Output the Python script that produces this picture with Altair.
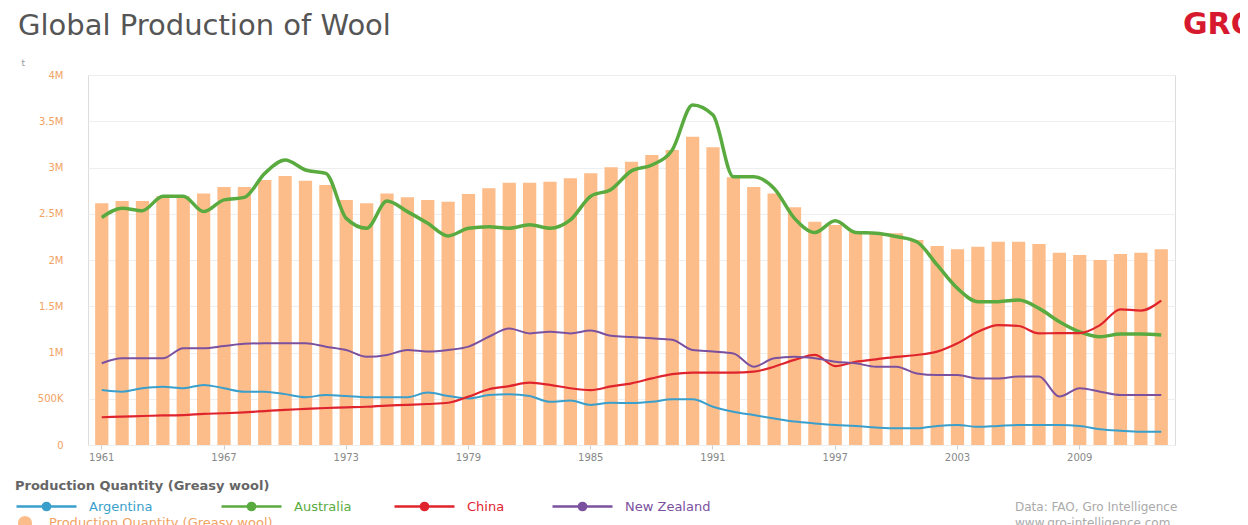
import altair as alt
import pandas as pd

years = list(range(1961, 2014))

# World production (bars, left axis), in millions of tonnes
world = [2.613, 2.638, 2.638, 2.69, 2.69, 2.72, 2.79, 2.79, 2.865, 2.908,
         2.857, 2.81, 2.649, 2.613, 2.72, 2.678, 2.649, 2.63, 2.714, 2.775,
         2.836, 2.836, 2.847, 2.883, 2.937, 3.002, 3.063, 3.135, 3.19, 3.333,
         3.218, 2.894, 2.79, 2.72, 2.57, 2.414, 2.378, 2.306, 2.288, 2.288,
         2.216, 2.151, 2.115, 2.144, 2.198, 2.198, 2.173, 2.079, 2.054, 2.0,
         2.065, 2.079, 2.115]

# Country production (lines, right axis), in thousands of tonnes
argentina = [178, 173, 184, 189, 184, 195, 184, 173, 173, 165,
             155, 162, 159, 155, 155, 155, 170, 159, 151, 162,
             165, 159, 140, 144, 130, 137, 136, 140, 148, 148,
             124, 108, 97, 86, 76, 70, 65, 62, 57, 54,
             54, 62, 65, 59, 62, 65, 65, 65, 62, 51,
             46, 43, 43]
australia = [738, 768, 760, 807, 807, 757, 795, 803, 881, 924,
             892, 881, 735, 703, 791, 757, 719, 678, 703, 708,
             703, 714, 703, 730, 807, 829, 889, 908, 957, 1103,
             1070, 870, 870, 832, 735, 689, 727, 689, 687, 676,
             659, 584, 508, 465, 465, 470, 443, 400, 367, 351,
             360, 360, 357]
china = [90, 92, 94, 96, 97, 101, 103, 106, 110, 114,
         117, 120, 122, 124, 128, 130, 133, 137, 157, 181,
         191, 202, 195, 184, 178, 190, 200, 216, 230, 235,
         235, 235, 238, 254, 276, 292, 256, 270, 278, 286,
         292, 303, 330, 367, 389, 386, 362, 363, 363, 389,
         440, 436, 468]
new_zealand = [265, 281, 281, 281, 314, 314, 321, 328, 330, 330,
               330, 319, 308, 286, 292, 308, 303, 308, 319, 351,
               378, 362, 367, 362, 371, 354, 350, 346, 341, 308,
               303, 297, 254, 281, 286, 281, 270, 265, 254, 254,
               232, 227, 227, 216, 216, 222, 222, 157, 184, 173,
               162, 162, 162]

countries = ["Argentina", "Australia", "China", "New Zealand"]
country_colors = ["#3a9fcb", "#5aab3f", "#e0242d", "#7b519f"]
country_widths = [2, 3.5, 2.2, 2]
legend_x = [-73, 132, 305, 463]
bar_series = "Production Quantity (Greasy wool)"
bar_color = "#fdbd8b"
left_ticks = [0, 500000, 1000000, 1500000, 2000000, 2500000, 3000000, 3500000, 4000000]
right_ticks = [0, 200000, 400000, 600000, 800000, 1000000, 1200000]
x_ticks = list(range(1961, 2014, 6))

bars_df = pd.DataFrame({"Year": years,
                        "Value": [v * 1e6 for v in world],
                        "Series": bar_series})
rows = []
for name, vals in zip(countries, [argentina, australia, china, new_zealand]):
    for y, v in zip(years, vals):
        rows.append({"Year": y, "Country": name, "Value": v * 1000})
lines_df = pd.DataFrame(rows)

FONT = "DejaVu Sans"
label_expr = ("datum.value == 0 ? '0' : (datum.value >= 1000000 ? "
              "format(datum.value / 1000000, '~g') + 'M' : "
              "format(datum.value / 1000, '~g') + 'K')")

x_enc = alt.X("Year:O",
              scale=alt.Scale(paddingInner=0.35, paddingOuter=0.35),
              axis=alt.Axis(values=x_ticks, labelAngle=0, title=None, domain=False,
                            tickSize=4, tickColor="#cccccc", labelColor="#888888",
                            labelFontSize=10, labelPadding=3, labelFont=FONT))

bars = alt.Chart(bars_df).mark_bar().encode(
    x=x_enc,
    y=alt.Y("Value:Q",
            scale=alt.Scale(domain=[0, 4000000], nice=False),
            axis=alt.Axis(values=left_ticks, labelExpr=label_expr, labelColor="#f2a262",
                          labelFontSize=10, labelFont=FONT, labelPadding=25, tickSize=0,
                          domain=False, grid=True, gridColor="#eeeeee",
                          title="t", titleAngle=0, titleX=-67, titleY=-13,
                          titleAlign="left", titleBaseline="middle", titleFontSize=9,
                          titleColor="#999999", titleFontWeight="normal", titleFont=FONT)),
    fill=alt.Fill("Series:N",
                  scale=alt.Scale(domain=[bar_series], range=[bar_color]),
                  legend=alt.Legend(orient="none", legendX=-71, legendY=440, title=None,
                                    symbolType="circle", symbolSize=200,
                                    labelColor="#f2a262", labelFontSize=13, labelFont=FONT,
                                    labelOffset=16, labelLimit=500))
)

sym_path = ("M-1,0H-0.12A0.12,0.12,0,1,1,0.12,0A0.12,0.12,0,1,1,-0.12,0"
            "M0.12,0H1")

right_axis = alt.Axis(values=right_ticks, orient="right", labelExpr=label_expr,
                      labelColor="#999999", labelFontSize=10, labelFont=FONT,
                      labelPadding=30, tickSize=0, domain=False, grid=False,
                      title="t", titleAngle=0, titleX=61, titleY=-18,
                      titleAlign="left", titleBaseline="middle", titleFontSize=9,
                      titleColor="#999999", titleFontWeight="normal", titleFont=FONT)

line_layers = []
for i, (name, col, sw, lx) in enumerate(zip(countries, country_colors, country_widths, legend_x)):
    layer = alt.Chart(lines_df).transform_filter(
        alt.datum.Country == name
    ).mark_line(interpolate="monotone", strokeWidth=sw).encode(
        x=x_enc,
        y=alt.Y("Value:Q", scale=alt.Scale(domain=[0, 1200000], nice=False),
                axis=right_axis if i == 0 else None),
        stroke=alt.Stroke("Country:N",
                          scale=alt.Scale(domain=[name], range=[col]),
                          legend=alt.Legend(orient="none", legendX=lx, legendY=400,
                                            title=None, symbolType=sym_path,
                                            symbolSize=3600, symbolStrokeWidth=2.5,
                                            symbolFillColor=col,
                                            labelColor=col, labelFontSize=13,
                                            labelFont=FONT, labelLimit=300,
                                            labelOffset=11)),
    )
    line_layers.append(layer)

lines = alt.layer(*line_layers).resolve_scale(stroke="independent")


def note(txt, x, y, size, color, weight="normal", align="left"):
    return alt.Chart(pd.DataFrame({"t": [txt]})).mark_text(
        font=FONT, fontSize=size, color=color, fontWeight=weight, align=align,
        baseline="middle").encode(x=alt.value(x), y=alt.value(y), text="t:N")

legend_title = note(bar_series, -73, 411, 13, "#666666", weight="bold")
source1 = note("Data: FAO, Gro Intelligence", 927, 432, 12, "#aaaaaa")
source2 = note("www.gro-intelligence.com", 927, 448, 12, "#aaaaaa")
logo = note("GRO", 1095, -50, 30, "#d7192f", weight="bold")

chart = alt.layer(bars, lines, legend_title, source1, source2, logo).resolve_scale(
    y="independent", stroke="independent"
).properties(
    width=1087, height=370,
    padding={"left": 80, "right": 65, "top": 67, "bottom": 80},
    autosize=alt.AutoSizeParams(type="none"),
    title=alt.TitleParams("Global Production of Wool", anchor="start", frame="group",
                          fontSize=29, font=FONT, fontWeight="normal",
                          color="#555555", dx=-70, dy=31, offset=0),
).configure_view(stroke=None).configure(background="white")

chart.save("out.html", embed_options={"renderer": "svg", "actions": False})
